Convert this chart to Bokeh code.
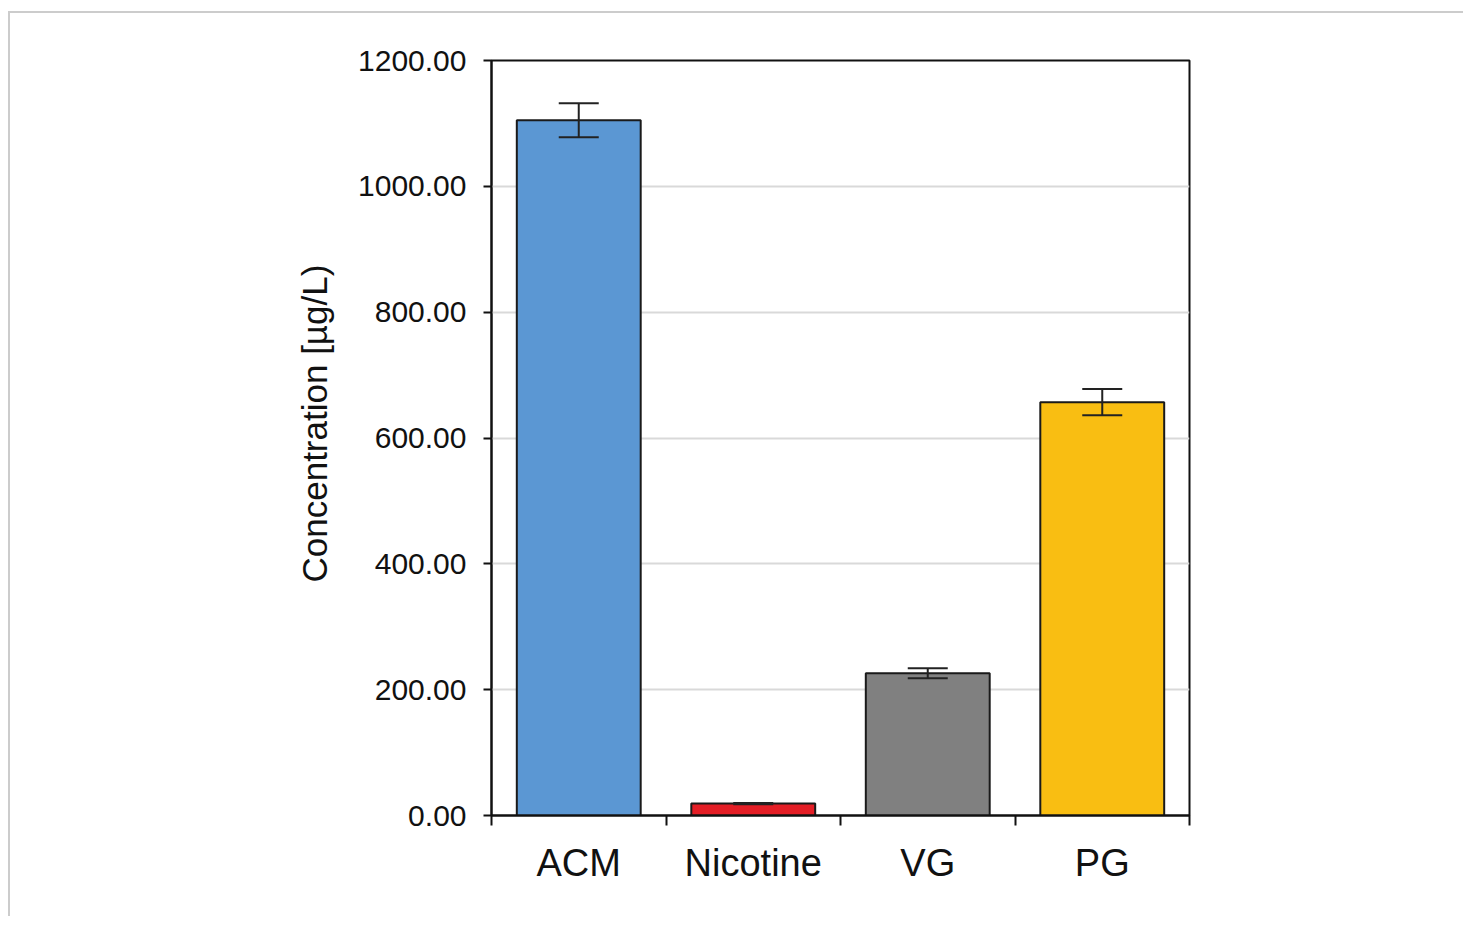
from bokeh.plotting import figure
from bokeh.models import Range1d, FixedTicker, NumeralTickFormatter, Whisker, ColumnDataSource, Title
from bokeh.embed import file_html
from bokeh.resources import INLINE

categories = ["ACM", "Nicotine", "VG", "PG"]
values = [1105.0, 19.0, 226.0, 657.0]
errors = [27.0, 1.0, 8.0, 21.0]
colors = ["#5B97D3", "#E41E26", "#808080", "#F9BE12"]
y_ticks = [0, 200, 400, 600, 800, 1000, 1200]
y_label = "Concentration [µg/L)"

xs = [i + 0.5 for i in range(len(categories))]
src = ColumnDataSource(dict(
    x=xs, top=values, color=colors,
    upper=[v + e for v, e in zip(values, errors)],
    lower=[v - e for v, e in zip(values, errors)],
))

FONT = "Liberation Sans"

p = figure(width=1455, height=905, output_backend="svg", toolbar_location=None,
           x_range=Range1d(0, len(categories)), y_range=Range1d(0, 1200),
           min_border_left=481, min_border_right=276, min_border_top=47, min_border_bottom=103)
p.styles = {"border-top": "2px solid #cccccc", "border-left": "2px solid #cccccc",
            "margin-top": "11px", "margin-left": "8px"}

p.outline_line_color = "#111111"
p.outline_line_width = 2
p.background_fill_color = "white"
p.border_fill_color = "white"

p.vbar(x="x", top="top", width=0.71, bottom=0, source=src, fill_color="color",
       line_color="#1a1a1a", line_width=2)

w = Whisker(base="x", upper="upper", lower="lower", source=src,
            line_color="#222222", line_width=2, level="overlay")
w.upper_head.size = 40
w.lower_head.size = 40
w.upper_head.line_width = 2
w.lower_head.line_width = 2
w.upper_head.line_color = "#222222"
w.lower_head.line_color = "#222222"
p.add_layout(w)

# x axis: labels at centers, ticks at category boundaries
xa = p.xaxis[0]
xa.ticker = FixedTicker(ticks=xs, minor_ticks=list(range(len(categories) + 1)))
xa.major_label_overrides = {x: c for x, c in zip(xs, categories)}
xa.major_tick_line_color = None
xa.minor_tick_line_color = "#111111"
xa.minor_tick_line_width = 2
xa.minor_tick_out = 10
xa.minor_tick_in = 0
xa.axis_line_color = "#111111"
xa.axis_line_width = 2
xa.major_label_text_font = FONT
xa.major_label_text_font_size = "38px"
xa.major_label_text_color = "#111111"
xa.major_label_standoff = 16

ya = p.yaxis[0]
ya.ticker = FixedTicker(ticks=y_ticks)
ya.formatter = NumeralTickFormatter(format="0.00")
ya.minor_tick_line_color = None
ya.major_tick_line_color = "#111111"
ya.major_tick_line_width = 2
ya.major_tick_out = 8
ya.major_tick_in = 0
ya.axis_line_color = "#111111"
ya.axis_line_width = 2
ya.major_label_text_font = FONT
ya.major_label_text_font_size = "30px"
ya.major_label_text_color = "#111111"
ya.major_label_standoff = 17

t = Title(text=y_label, align="left", offset=233, text_font=FONT,
          text_font_size="35px", text_font_style="normal", text_color="#111111",
          standoff=44)
p.add_layout(t, "left")

p.xgrid.grid_line_color = None
p.ygrid.ticker = FixedTicker(ticks=y_ticks[1:-1])
p.ygrid.grid_line_color = "#d9d9d9"
p.ygrid.grid_line_width = 2

open("out.html", "w").write(file_html(p, INLINE))
